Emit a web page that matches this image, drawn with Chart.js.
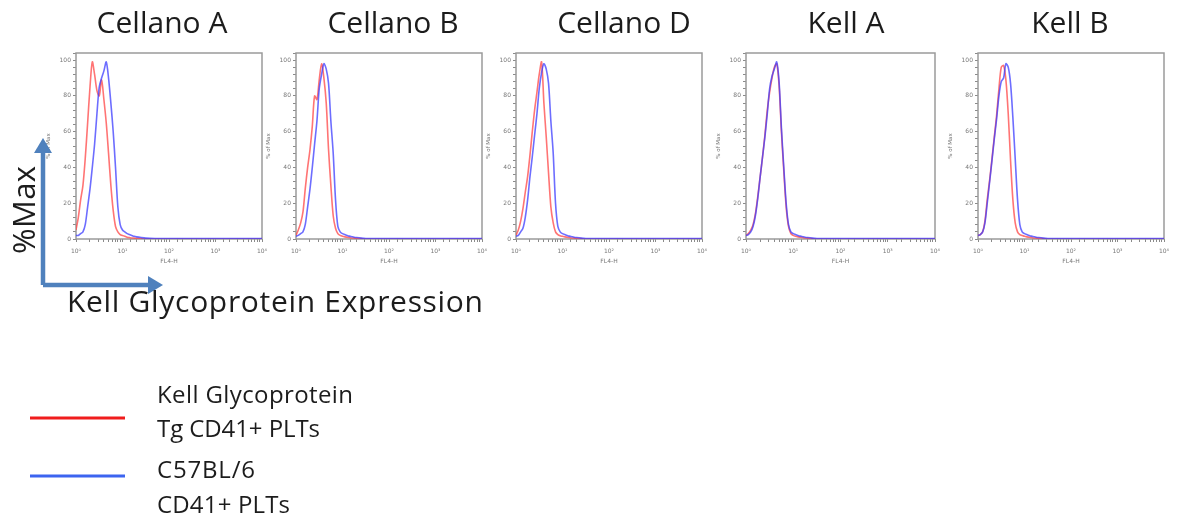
<!DOCTYPE html>
<html>
<head>
<meta charset="utf-8">
<script src="https://cdn.jsdelivr.net/npm/chart.js@4.4.1/dist/chart.umd.min.js"></script>
<style>
    html, body { margin: 0; padding: 0; background: #fff; }
    body { width: 1178px; height: 521px; position: relative; overflow: hidden; }
    canvas { position: absolute; }
    #overlay { position: absolute; left: 0; top: 0; pointer-events: none; }
    #overlay text { font-family: "Open Sans", sans-serif; fill: #1c1c1c; }
</style>
</head>
<body>
<svg id="overlay" width="1178" height="521"></svg>
<script>
// histogram channels (FL4-H), shared by every panel
const channels = [1, 1.12, 1.26, 1.41, 1.58, 1.78, 2.0, 2.24, 2.51, 2.82, 3.16, 3.55, 3.98, 4.47, 5.01, 5.62,
    6.31, 7.08, 7.94, 8.91, 10, 11.2, 12.6, 14.1, 15.8, 17.8, 20, 25.1, 31.6, 50.1, 100, 1000, 10000];

const panelTitles = ["Cellano A", "Cellano B", "Cellano D", "Kell A", "Kell B"];

// % of Max, Kell Glycoprotein Tg CD41+ PLTs
const kellTg = [
    [5, 12, 22, 30, 45, 65, 85, 99, 92, 83, 80, 89, 78, 65, 48, 30, 16, 7, 4, 2.5, 2, 1.5, 1, 0.8, 0.6, 0.5, 0.4, 0.2, 0, 0, 0, 0, 0],
    [2, 5, 9, 15, 28, 40, 50, 63, 80, 78, 89, 98, 90, 76, 50, 30, 13, 6, 3, 2, 1.5, 1.2, 1, 0.8, 0.6, 0.5, 0.4, 0.2, 0, 0, 0, 0, 0],
    [2, 5, 10, 17, 26, 35, 47, 60, 72, 82, 92, 99, 76, 57, 37, 18, 9, 4, 2.5, 1.8, 1.5, 1.2, 1, 0.8, 0.6, 0.5, 0.4, 0.2, 0, 0, 0, 0, 0],
    [2, 3, 5, 8, 14, 24, 35, 46, 58, 72, 82, 90, 96, 98, 86, 60, 38, 18, 7, 3, 2, 1.5, 1.2, 1, 0.8, 0.6, 0.5, 0.3, 0, 0, 0, 0, 0],
    [2, 2.5, 4, 10, 22, 33, 45, 57, 69, 84, 96, 97, 89, 70, 44, 22, 9, 4, 2.5, 2, 1.5, 1.2, 1, 0.8, 0.6, 0.5, 0.4, 0.3, 0, 0, 0, 0, 0],
];

// % of Max, C57BL/6 CD41+ PLTs
const c57bl6 = [
    [2, 2, 3, 4, 8, 18, 28, 40, 53, 70, 85, 90, 94, 99, 90, 76, 60, 40, 18, 8, 5, 4, 3, 2.5, 2, 1.5, 1.2, 0.8, 0.5, 0.3, 0.2, 0.2, 0.2],
    [1.5, 2, 3, 4, 8, 18, 28, 40, 53, 66, 84, 92, 98, 95, 87, 66, 48, 22, 7, 4, 3, 2.5, 2, 1.6, 1.3, 1, 0.8, 0.5, 0.3, 0.2, 0.2, 0.2, 0.2],
    [1.5, 2, 4, 6, 12, 22, 35, 46, 58, 70, 84, 93, 98, 95, 87, 66, 48, 20, 7, 4, 3, 2.5, 2, 1.6, 1.3, 1, 0.8, 0.5, 0.3, 0.2, 0.2, 0.2, 0.2],
    [2, 2.5, 4, 7, 13, 23, 35, 46, 57, 70, 84, 91, 95, 99, 88, 62, 40, 20, 8, 4, 3, 2.5, 2, 1.6, 1.3, 1, 0.8, 0.5, 0.3, 0.2, 0.2, 0.2, 0.2],
    [2, 2.5, 4, 9, 20, 32, 44, 56, 67, 80, 88, 90, 98, 96, 87, 68, 45, 22, 8, 4, 3, 2.5, 2, 1.6, 1.3, 1, 0.8, 0.5, 0.3, 0.2, 0.2, 0.2, 0.2],
];

const xTickValues = [1, 10, 100, 1000, 10000];
const xTickLabels = ["10\u2070", "10\u00b9", "10\u00b2", "10\u00b3", "10\u2074"];
const legendLabels = [["Kell Glycoprotein", "Tg CD41+ PLTs"], ["C57BL/6", "CD41+ PLTs"]];

// plot box of each panel in page pixels
const boxes = [
    { left: 76, width: 186 },
    { left: 296, width: 186 },
    { left: 516, width: 186 },
    { left: 746, width: 189 },
    { left: 978, width: 186 },
];
const titleCenters = [162, 393, 624, 846, 1070];

const RED = "rgba(255, 70, 70, 0.75)";
const BLUE = "rgba(60, 60, 255, 0.75)";

const framePlugin = {
    id: "frame",
    beforeDatasetsDraw(chart) {
        const a = chart.chartArea;
        const ctx = chart.ctx;
        ctx.save();
        ctx.strokeStyle = "#9a9a9a";
        ctx.lineWidth = 1.5;
        ctx.strokeRect(a.left, a.top, a.right - a.left, a.bottom - a.top);
        ctx.restore();
    },
};

boxes.forEach((box, i) => {
    const canvas = document.createElement("canvas");
    const w = box.width + 33 + 8;
    const h = 220;
    canvas.width = w;
    canvas.height = h;
    canvas.style.left = (box.left - 33) + "px";
    canvas.style.top = "45px";
    canvas.style.width = w + "px";
    canvas.style.height = h + "px";
    document.body.insertBefore(canvas, document.getElementById("overlay"));

    new Chart(canvas.getContext("2d"), {
        type: "line",
        data: {
            datasets: [
                {
                    label: legendLabels[0].join(" "),
                    data: channels.map((c, k) => ({ x: c, y: kellTg[i][k] })),
                    borderColor: RED,
                    borderWidth: 1.6,
                    pointRadius: 0,
                    tension: 0.3,
                    order: 1,
                },
                {
                    label: legendLabels[1].join(" "),
                    data: channels.map((c, k) => ({ x: c, y: c57bl6[i][k] })),
                    borderColor: BLUE,
                    borderWidth: 1.6,
                    pointRadius: 0,
                    tension: 0.3,
                    order: 0,
                },
            ],
        },
        options: {
            responsive: false,
            animation: false,
            layout: { padding: { top: 8, right: 8, left: 0, bottom: 0 } },
            plugins: { legend: { display: false }, tooltip: { enabled: false } },
            scales: {
                x: {
                    type: "logarithmic",
                    min: 1,
                    max: 10000,
                    afterFit: (axis) => {
                        axis.height = 26;
                        axis.paddingLeft = 0;
                        axis.paddingRight = 0;
                    },
                    afterBuildTicks: (axis) => {
                        axis.ticks = axis.ticks.filter((t) => t.value >= 1 && t.value <= 10000);
                    },
                    grid: { drawOnChartArea: false, tickLength: 3, color: "#8a8a8a" },
                    border: { display: false },
                    ticks: {
                        autoSkip: false,
                        maxRotation: 0,
                        padding: 6,
                        color: "#777",
                        font: { family: "DejaVu Sans", size: 6 },
                        callback: (v) => {
                            const k = xTickValues.indexOf(v);
                            return k >= 0 ? xTickLabels[k] : "";
                        },
                    },
                    title: {
                        display: true,
                        text: "FL4-H",
                        color: "#777",
                        font: { family: "DejaVu Sans", size: 6 },
                        padding: { top: 1, bottom: 0 },
                    },
                },
                y: {
                    min: 0,
                    max: 104,
                    afterFit: (axis) => {
                        axis.width = 33;
                        axis.paddingTop = 0;
                        axis.paddingBottom = 0;
                    },
                    grid: { drawOnChartArea: false, tickLength: 3, color: "#8a8a8a" },
                    border: { display: false },
                    ticks: {
                        stepSize: 4,
                        autoSkip: false,
                        padding: 2,
                        color: "#777",
                        font: { family: "DejaVu Sans", size: 6 },
                        callback: (v) => (v % 20 === 0 && v <= 100 ? String(v) : ""),
                    },
                    title: {
                        display: true,
                        text: "% of Max",
                        color: "#777",
                        font: { family: "DejaVu Sans", size: 5.5 },
                        padding: { top: 2, bottom: 0 },
                    },
                },
            },
        },
        plugins: [framePlugin],
    });
});

// titles, big axis arrows and legend
const svgNS = "http://www.w3.org/2000/svg";
const overlay = document.getElementById("overlay");
function addText(str, x, y, size, anchor, transform, length) {
    const t = document.createElementNS(svgNS, "text");
    t.textContent = str;
    t.setAttribute("x", x);
    t.setAttribute("y", y);
    t.setAttribute("font-size", size);
    t.setAttribute("text-anchor", anchor || "start");
    if (transform) t.setAttribute("transform", transform);
    if (length) {
        t.setAttribute("textLength", length);
        t.setAttribute("lengthAdjust", "spacing");
    }
    overlay.appendChild(t);
}
function addShape(tag, attrs) {
    const el = document.createElementNS(svgNS, tag);
    Object.keys(attrs).forEach((k) => el.setAttribute(k, attrs[k]));
    overlay.appendChild(el);
}

panelTitles.forEach((t, i) => addText(t, titleCenters[i], 33, 30, "middle"));

const ARROW = "#4f81bd";
addShape("path", { d: "M43 285 V150 M43 285 H150", stroke: ARROW, "stroke-width": 4.5, fill: "none" });
addShape("polygon", { points: "34,153 43,138 52,153", fill: ARROW });
addShape("polygon", { points: "148,276 163,285 148,294", fill: ARROW });
addText("%Max", 0, 0, 31, "middle", "translate(35,210) rotate(-90)", 88);
addText("Kell Glycoprotein Expression", 67, 312, 30, "start", null, 416);

addShape("line", { x1: 30, y1: 418, x2: 125, y2: 418, stroke: "#f01c1c", "stroke-width": 3 });
addShape("line", { x1: 30, y1: 476, x2: 125, y2: 476, stroke: "#3c64f0", "stroke-width": 3 });
addText(legendLabels[0][0], 157, 403, 24, "start", null, 196);
addText(legendLabels[0][1], 157, 437, 24, "start", null, 163);
addText(legendLabels[1][0], 157, 478, 24, "start", null, 98);
addText(legendLabels[1][1], 157, 513, 24, "start", null, 133);
</script>
</body>
</html>
